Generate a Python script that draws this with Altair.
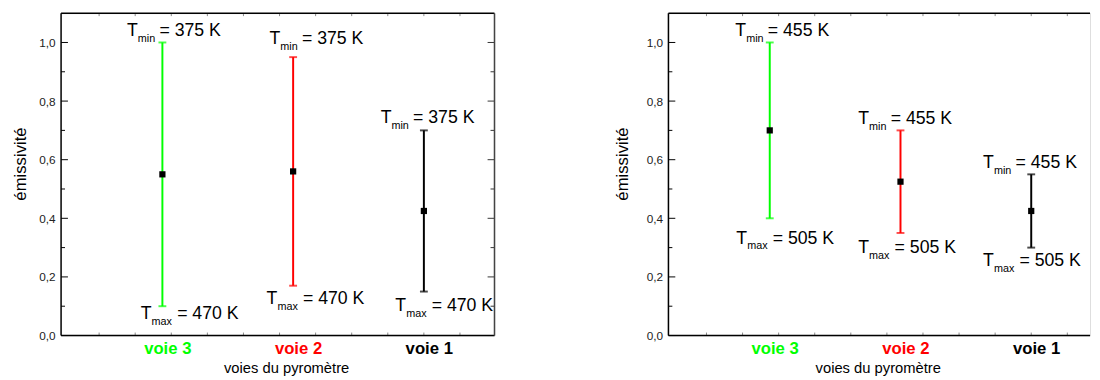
import altair as alt
import pandas as pd

# ---------------- data ----------------
channels = ["voie 3", "voie 2", "voie 1"]
positions = [1, 2, 3]

# left panel
left_center = [0.55, 0.56, 0.425]
left_low = [0.10, 0.17, 0.15]
left_high = [1.00, 0.95, 0.70]
left_tmin = 375
left_tmax = 470
left_tmin_label_y = [1.022, 0.996, 0.725]
left_tmax_label_y = [0.057, 0.107, 0.084]

# right panel
right_center = [0.70, 0.525, 0.425]
right_low = [0.40, 0.35, 0.30]
right_high = [1.00, 0.70, 0.55]
right_tmin = 455
right_tmax = 505
right_tmin_label_y = [1.022, 0.722, 0.571]
right_tmax_label_y = [0.314, 0.281, 0.238]

y_major = [0.0, 0.2, 0.4, 0.6, 0.8, 1.0]
y_minor = [0.1, 0.3, 0.5, 0.7, 0.9]

# ---------------- styles ----------------
FONT = "Liberation Sans"
colors = ["#00ff00", "#ff0000", "#000000"]
left_tmin_dx = [-36, -24, -44]
left_tmax_dx = [-22, -27, -29]
right_tmin_dx = [-35, -43, -49]
right_tmax_dx = [-34, -43, -49]

XMIN, XMAX_FULL = 0.225, 3.54
PLOT_W, PLOT_H = 441, 328
PPU = PLOT_W / (XMAX_FULL - XMIN)
YDOM = [0, 1.1]
XTICK_STEP = 0.276


def panel(center, low, high, tmin, tmax, tmin_y, tmax_y, tmin_dx, tmax_dx,
          width, draw_right, title_x, title_pad, ytitle_pad):
    xmax = XMIN + width / PPU
    xs = alt.Scale(domain=[XMIN, xmax], nice=False, zero=False)
    ys = alt.Scale(domain=YDOM, nice=False, zero=False)

    df = pd.DataFrame({
        "pos": positions, "channel": channels, "color": colors,
        "center": center, "low": low, "high": high,
        "tmin_y": tmin_y, "tmax_y": tmax_y,
        "tmin_x": [p + d / PPU for p, d in zip(positions, tmin_dx)],
        "tmax_x": [p + d / PPU for p, d in zip(positions, tmax_dx)],
        "tmin_txt": [f"= {tmin} K"] * 3,
        "tmax_txt": [f"= {tmax} K"] * 3,
    })

    label_expr = " : ".join(
        [f"datum.value == {p} ? '{c}'" for p, c in zip(positions[:-1], channels[:-1])]
    ) + f" : '{channels[-1]}'"

    x_axis = alt.Axis(
        values=positions, labelExpr=label_expr, ticks=False, domain=False, grid=False,
        labelFontSize=17, labelFontWeight="bold", labelFont=FONT, labelPadding=5,
        labelOffset=5,
        labelColor={"condition": [
            {"test": f"datum.value == {positions[0]}", "value": colors[0]},
            {"test": f"datum.value == {positions[1]}", "value": colors[1]},
        ], "value": colors[2]},
        title="voies du pyromètre", titleFontSize=15, titleFontWeight="normal",
        titleFont=FONT, titleColor="black", titlePadding=title_pad, titleX=title_x,
    )
    y_axis = alt.Axis(
        values=y_major, labelExpr="replace(format(datum.value, '.1f'), '.', ',')",
        ticks=False, domain=False, grid=False, labelFontSize=12, labelFont=FONT,
        labelColor="#222", labelPadding=6,
        title="émissivité", titleFontSize=17, titleFontWeight="normal", titleFont=FONT,
        titleColor="black", titlePadding=ytitle_pad, titleY=153,
    )

    base = alt.Chart(df)
    X = lambda f: alt.X(f"{f}:Q", scale=xs, axis=x_axis)
    Y = lambda f: alt.Y(f"{f}:Q", scale=ys, axis=y_axis)
    col = alt.Color("color:N", scale=None)

    bars = base.mark_rule(strokeWidth=2).encode(
        x=X("pos"), y=Y("low"), y2="high:Q", color=col)
    cap_lo = base.mark_tick(orient="horizontal", size=8, thickness=2).encode(
        x=X("pos"), y=Y("low"), color=col)
    cap_hi = base.mark_tick(orient="horizontal", size=8, thickness=2).encode(
        x=X("pos"), y=Y("high"), color=col)
    dots = base.mark_square(size=40, color="black", opacity=1, filled=True).encode(
        x=X("pos"), y=Y("center"))

    def label(kind, sub, sub_dx):
        t1 = base.mark_text(align="left", baseline="alphabetic", fontSize=18,
                            font=FONT, color="black").encode(
            x=X(f"{kind}_x"), y=Y(f"{kind}_y"), text=alt.value("T"))
        t2 = base.mark_text(align="left", baseline="alphabetic", fontSize=11,
                            font=FONT, color="black", dx=11, dy=6).encode(
            x=X(f"{kind}_x"), y=Y(f"{kind}_y"), text=alt.value(sub))
        t3 = base.mark_text(align="left", baseline="alphabetic", fontSize=18,
                            font=FONT, color="black", dx=sub_dx).encode(
            x=X(f"{kind}_x"), y=Y(f"{kind}_y"), text=f"{kind}_txt:N")
        return [t1, t2, t3]

    texts = label("tmin", "min", 33) + label("tmax", "max", 37)

    # inward ticks on the y frame(s)
    ymaj = alt.Chart(pd.DataFrame({"v": y_major}))
    ymin = alt.Chart(pd.DataFrame({"v": y_minor}))
    yt = [
        ymaj.mark_rule(color="black", strokeWidth=1).encode(
            y=Y("v"), x=alt.value(0), x2=alt.value(7)),
        ymin.mark_rule(color="black", strokeWidth=1).encode(
            y=Y("v"), x=alt.value(0), x2=alt.value(4)),
    ]
    if draw_right:
        yt += [
            ymaj.mark_rule(color="#333", strokeWidth=1).encode(
                y=Y("v"), x=alt.value(width - 7), x2=alt.value(width)),
            ymin.mark_rule(color="#333", strokeWidth=1).encode(
                y=Y("v"), x=alt.value(width - 4), x2=alt.value(width)),
        ]

    # small ticks on top / bottom frame
    xt_vals = [positions[-1] + k * XTICK_STEP for k in range(-14, 4)]
    xt_vals = [v for v in xt_vals if XMIN + 0.02 < v < xmax - 0.02]
    xtc = alt.Chart(pd.DataFrame({"v": xt_vals}))
    xt = [
        xtc.mark_rule(color="#888", strokeWidth=1).encode(
            x=X("v"), y=alt.value(0), y2=alt.value(3)),
        xtc.mark_rule(color="#888", strokeWidth=1).encode(
            x=X("v"), y=alt.value(PLOT_H - 3), y2=alt.value(PLOT_H)),
    ]

    one = alt.Chart(pd.DataFrame({"a": [0]}))
    frame = [
        one.mark_rule(color="black", strokeWidth=1.5).encode(
            x=alt.value(0), y=alt.value(0), y2=alt.value(PLOT_H)),
        one.mark_rule(color="black", strokeWidth=1.5).encode(
            x=alt.value(0), x2=alt.value(width), y=alt.value(0)),
        one.mark_rule(color="black", strokeWidth=1.5).encode(
            x=alt.value(0), x2=alt.value(width), y=alt.value(PLOT_H)),
    ]
    if draw_right:
        frame.append(one.mark_rule(color="#444", strokeWidth=1.5).encode(
            x=alt.value(width), y=alt.value(0), y2=alt.value(PLOT_H)))

    layers = [bars] + yt + xt + frame + [cap_lo, cap_hi, dots] + texts
    return alt.layer(*layers).properties(width=width, height=PLOT_H)


left = panel(left_center, left_low, left_high, left_tmin, left_tmax,
             left_tmin_label_y, left_tmax_label_y, left_tmin_dx, left_tmax_dx,
             PLOT_W, True, 229, 5, 9)
right = panel(right_center, right_low, right_high, right_tmin, right_tmax,
              right_tmin_label_y, right_tmax_label_y, right_tmin_dx, right_tmax_dx,
              429, False, 213, 5, 15)

chart = alt.hconcat(left, right, spacing=118).properties(
    padding={"left": 3, "top": 0, "right": 0, "bottom": 0}
).configure_view(stroke=None).configure(font=FONT)

chart.save("out.html", embed_options={"renderer": "svg", "actions": False})
